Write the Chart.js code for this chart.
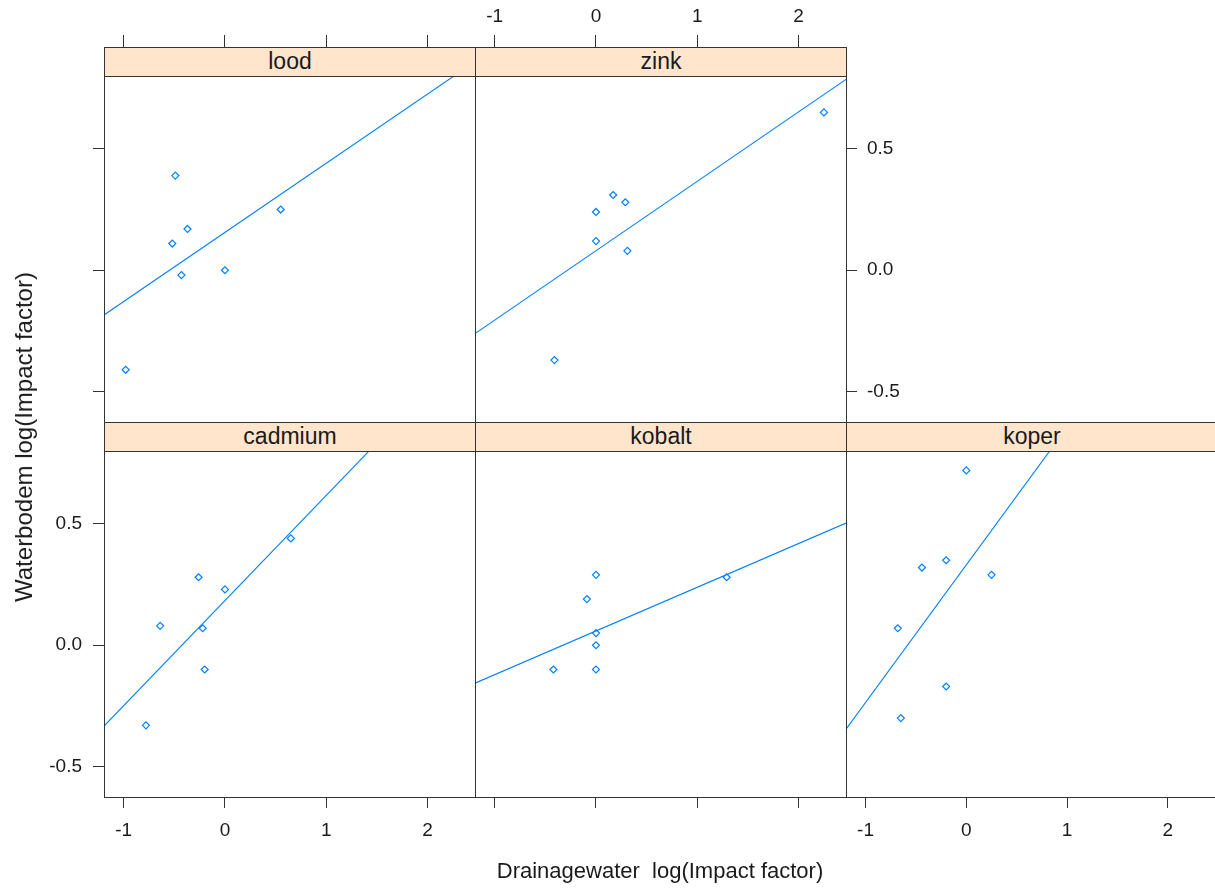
<!DOCTYPE html>
<html>
<head>
<meta charset="utf-8">
<script src="https://cdn.jsdelivr.net/npm/chart.js@4/dist/chart.umd.min.js"></script>
<style>
html,body{margin:0;padding:0;background:#fff;}
#wrap{position:relative;width:1215px;height:888px;overflow:hidden;font-family:"Liberation Sans",Arial,sans-serif;color:#1a1a1a;}
#wrap canvas{position:absolute;left:0;top:0;}
.strip{position:absolute;background:#ffe5cc;border:1px solid #333;box-sizing:border-box;text-align:center;font-size:23px;line-height:27px;color:#1a1a1a;white-space:nowrap;}
.title{position:absolute;white-space:pre;transform:translate(-50%,-50%);color:#1a1a1a;}
#ytitle{transform:translate(-50%,-50%) rotate(-90deg);}
</style>
</head>
<body>
<div id="wrap"></div>
<script>
// ---- data ----
const panelNames = ['lood', 'zink', 'cadmium', 'kobalt', 'koper'];

const loodX    = [-0.98, -0.49, -0.37, -0.52, -0.43, 0.00, 0.55];
const loodY    = [-0.41, 0.39, 0.17, 0.11, -0.02, 0.00, 0.25];
const zinkX    = [2.25, 0.17, 0.29, 0.00, 0.00, 0.31, -0.41];
const zinkY    = [0.65, 0.31, 0.28, 0.24, 0.12, 0.08, -0.37];
const cadmiumX = [0.65, -0.26, 0.00, -0.64, -0.22, -0.20, -0.78];
const cadmiumY = [0.44, 0.28, 0.23, 0.08, 0.07, -0.10, -0.33];
const kobaltX  = [0.00, -0.09, 0.00, 0.00, -0.42, 0.00, 1.29];
const kobaltY  = [0.29, 0.19, 0.05, 0.00, -0.10, -0.10, 0.28];
const koperX   = [0.00, -0.44, -0.20, 0.25, -0.68, -0.20, -0.65];
const koperY   = [0.72, 0.32, 0.35, 0.29, 0.07, -0.17, -0.30];

// fitted regression lines: y at the left and right x-limits
const loodFit    = [-0.184, 0.859];
const zinkFit    = [-0.261, 0.786];
const cadmiumFit = [-0.333, 1.253];
const kobaltFit  = [-0.156, 0.503];
const koperFit   = [-0.346, 1.730];

const xLimits = [-1.194, 2.468];
const yLimits = [-0.625, 0.80];
const xTicks = [-1, 0, 1, 2];
const xTickLabels = ['-1', '0', '1', '2'];
const yTicks = [-0.5, 0, 0.5];
const yTickLabels = ['-0.5', '0.0', '0.5'];

const xTitle = 'Drainagewater  log(Impact factor)';
const yTitle = 'Waterbodem log(Impact factor)';

// ---- layout / style ----
const W = 1215, H = 888;
const BLUE = '#0080ff';
const INK = '#333333';
const TXT = '#1a1a1a';
const FONT = '"Liberation Sans", Arial, sans-serif';
const AXV = 90;   // thickness of vertical axes
const AXH = 76;   // thickness of horizontal axes

const panels = [
  {name: panelNames[0], xs: loodX, ys: loodY, fit: loodFit, area: [104, 76, 475, 422], strip: 47,
   x: {pos: 'top', labels: false, len: 41, pad: 7}, y: {pos: 'left', labels: false, len: 11, pad: 11}},
  {name: panelNames[1], xs: zinkX, ys: zinkY, fit: zinkFit, area: [475, 76, 846, 422], strip: 47,
   x: {pos: 'top', labels: true, len: 41, pad: 7}, y: {pos: 'right', labels: true, len: 11, pad: 10}},
  {name: panelNames[2], xs: cadmiumX, ys: cadmiumY, fit: cadmiumFit, area: [104, 451, 475, 797], strip: 422,
   x: {pos: 'bottom', labels: true, len: 11, pad: 11}, y: {pos: 'left', labels: true, len: 11, pad: 11}},
  {name: panelNames[3], xs: kobaltX, ys: kobaltY, fit: kobaltFit, area: [475, 451, 846, 797], strip: 422,
   x: {pos: 'bottom', labels: false, len: 11, pad: 11}, y: null},
  {name: panelNames[4], xs: koperX, ys: koperY, fit: koperFit, area: [846, 451, 1217, 797], strip: 422,
   x: {pos: 'bottom', labels: true, len: 11, pad: 11}, y: null}
];

const framePlugin = {
  id: 'frame',
  afterDraw(chart) {
    const a = chart.chartArea, ctx = chart.ctx;
    const l = Math.floor(a.left) + 0.5, t = Math.floor(a.top) + 0.5;
    const r = Math.floor(a.right) + 0.5, b = Math.floor(a.bottom) + 0.5;
    ctx.save();
    ctx.strokeStyle = INK;
    ctx.lineWidth = 1;
    ctx.strokeRect(l, t, r - l, b - t);
    ctx.restore();
  }
};

function axisScale(cfg, lim, ticks, labels, horizontal) {
  if (!cfg) return {type: 'linear', display: false, min: lim[0], max: lim[1]};
  return {
    type: 'linear', position: cfg.pos, min: lim[0], max: lim[1],
    afterBuildTicks: s => { s.ticks = ticks.map(v => ({value: v})); },
    afterFit: s => { if (horizontal) s.height = AXH; else s.width = AXV; },
    grid: {display: true, drawOnChartArea: false, drawTicks: true, tickLength: cfg.len,
           color: INK, tickColor: INK, lineWidth: 1, tickWidth: 1},
    border: {display: false},
    ticks: {display: cfg.labels, padding: cfg.pad, color: TXT, autoSkip: false,
            maxRotation: 0, minRotation: 0,
            font: {family: FONT, size: 19},
            callback: v => labels[ticks.indexOf(v)]}
  };
}

const wrap = document.getElementById('wrap');

panels.forEach(p => {
  const cv = document.createElement('canvas');
  cv.width = W; cv.height = H;
  cv.style.width = W + 'px'; cv.style.height = H + 'px';
  wrap.appendChild(cv);

  const pad = {
    left: p.area[0] - (p.y && p.y.pos === 'left' ? AXV : 0),
    right: W - p.area[2] - (p.y && p.y.pos === 'right' ? AXV : 0),
    top: p.area[1] - (p.x.pos === 'top' ? AXH : 0),
    bottom: H - p.area[3] - (p.x.pos === 'bottom' ? AXH : 0)
  };

  new Chart(cv, {
    type: 'scatter',
    data: {
      datasets: [
        {
          data: p.xs.map((x, i) => ({x: x, y: p.ys[i]})),
          pointStyle: 'rectRot', pointRadius: 3.5, borderWidth: 1.2,
          borderColor: BLUE, backgroundColor: 'rgba(0,0,0,0)', showLine: false
        },
        {
          data: [{x: xLimits[0], y: p.fit[0]}, {x: xLimits[1], y: p.fit[1]}],
          showLine: true, borderColor: BLUE, borderWidth: 1.1, pointRadius: 0,
          backgroundColor: BLUE, clip: 0
        }
      ]
    },
    options: {
      responsive: false, animation: false, devicePixelRatio: 1, events: [],
      layout: {padding: pad, autoPadding: false},
      plugins: {legend: {display: false}, tooltip: {enabled: false}, title: {display: false}},
      scales: {
        x: axisScale(p.x, xLimits, xTicks, xTickLabels, true),
        y: axisScale(p.y, yLimits, yTicks, yTickLabels, false)
      }
    },
    plugins: [framePlugin]
  });

  const s = document.createElement('div');
  s.className = 'strip';
  s.style.left = p.area[0] + 'px';
  s.style.top = p.strip + 'px';
  s.style.width = (p.area[2] - p.area[0] + 1) + 'px';
  s.style.height = (p.area[1] - p.strip + 1) + 'px';
  s.textContent = p.name;
  wrap.appendChild(s);
});

const xt = document.createElement('div');
xt.className = 'title';
xt.style.left = '660px'; xt.style.top = '871px'; xt.style.fontSize = '22px';
xt.textContent = xTitle;
wrap.appendChild(xt);

const yt = document.createElement('div');
yt.className = 'title'; yt.id = 'ytitle';
yt.style.left = '24px'; yt.style.top = '437px'; yt.style.fontSize = '24px';
yt.textContent = yTitle;
wrap.appendChild(yt);
</script>
</body>
</html>
